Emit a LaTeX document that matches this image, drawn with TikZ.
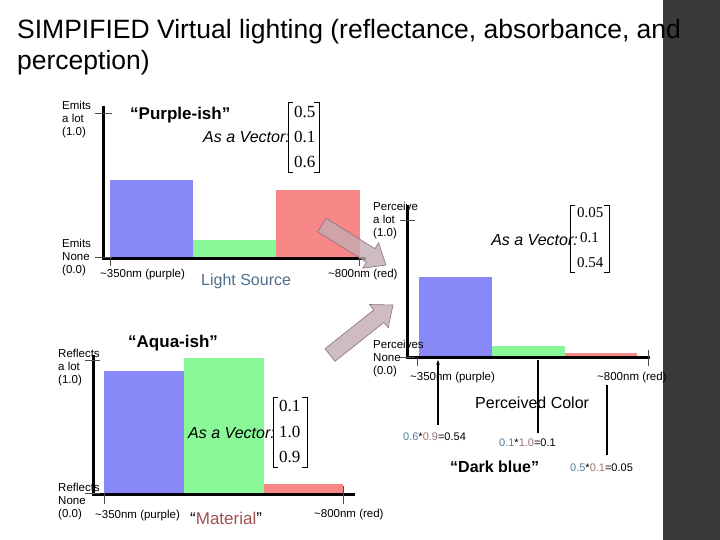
\documentclass[tikz,border=0pt]{standalone}
\usepackage{fontspec}
\setmainfont{Liberation Sans}
\newfontfamily\serifm{Liberation Serif}
\usetikzlibrary{arrows.meta}
\definecolor{barB}{HTML}{8888F8}
\definecolor{barG}{HTML}{88F898}
\definecolor{barR}{HTML}{F88888}
\definecolor{side}{HTML}{3A3A3A}
\definecolor{slate}{HTML}{4F6F8F}
\definecolor{numB}{HTML}{4F7F9F}
\definecolor{numR}{HTML}{A07070}
\definecolor{matc}{HTML}{A05050}
\definecolor{arrf}{HTML}{C4ACB2}
\definecolor{arrd}{HTML}{8A7078}
\tikzset{
  axis/.style={line width=3pt},
  tick/.style={line width=0.5pt,gray!60!black},
  small/.style={font=\fontsize{11.5}{13}\selectfont,anchor=north west,inner sep=0pt,align=left},
  axlab/.style={font=\fontsize{11.5}{13}\selectfont,anchor=west,inner sep=0pt},
  bold/.style={font=\fontsize{17}{19}\selectfont\bfseries,anchor=west,inner sep=0pt},
  vec/.style={font=\fontsize{16}{18}\selectfont\itshape,anchor=east,inner sep=0pt},
  num/.style={font=\serifm\fontsize{17}{19}\selectfont,anchor=west,inner sep=0pt},
  form/.style={font=\fontsize{11}{13}\selectfont,anchor=west,inner sep=0pt},
  fatarrow/.style={draw=arrd,fill=arrf,fill opacity=0.8,line width=0.6pt,line join=miter},
}
\begin{document}
\begin{tikzpicture}[x=1pt,y=-1pt]
\useasboundingbox (0,0) rectangle (720,540);
\fill[white] (0,0) rectangle (720,540);
\fill[side] (663,0) rectangle (720,540);
\node[anchor=north west,inner sep=0pt,align=left,font=\fontsize{26.5}{31}\selectfont] (title) at (17,19) {SIMPIFIED Virtual lighting (reflectance, absorbance, and\\perception)};

% ---------- Chart 1: light source
\fill[barB] (110,180) rectangle (193,257);
\fill[barG] (193,240) rectangle (276,257);
\fill[barR] (276,190) rectangle (360,257);
\draw[axis] (103,106) -- (103,258) -- (366,258);
\draw[tick] (95,113) -- (112,113);
\draw[tick] (95,257) -- (112,257);
\draw[tick] (110,257) -- (110,266);
\draw[tick] (359,257) -- (359,266);
\node[small] (e1) at (62,101) {Emits\\a lot\\(1.0)};
\node[small] (e0) at (62,239) {Emits\\None\\(0.0)};
\node[axlab] (l1a) at (100,275) {\textasciitilde350nm (purple)};
\node[anchor=west,inner sep=0pt,text=slate,font=\fontsize{16}{18}\selectfont] (ls) at (201,281) {Light Source};
\node[axlab] (l1b) at (328,275) {\textasciitilde800nm (red)};
\node[bold] (pur) at (130,115) {``Purple-ish''};
\node[vec] (v1) at (290,137) {As a Vector:};
\draw[line width=0.8pt] (293,102) -- (288,102) -- (288,172) -- (293,172);
\draw[line width=0.8pt] (314,102) -- (319,102) -- (319,172) -- (314,172);
\node[num] (m11) at (294,112) {0.5};
\node[num] (m12) at (294,137) {0.1};
\node[num] (m13) at (294,162) {0.6};

% ---------- Chart 2: perception
\fill[barB] (419,277) rectangle (492,357);
\fill[barG] (492,346) rectangle (565,357);
\fill[barR] (565,353) rectangle (637,357);
\draw[axis] (407,205) -- (407,357) -- (650,357);
\draw[tick] (400,220) -- (415,220);
\draw[tick] (400,357) -- (415,357);
\draw[tick] (417,357) -- (417,366);
\draw[tick] (648,350) -- (648,366);
\node[small] (p1) at (373,202) {Perceive\\a lot\\(1.0)};
\node[small] (p0) at (373,340) {Perceives\\None\\(0.0)};
\node[axlab] (l2a) at (410,378) {\textasciitilde350nm (purple)};
\node[axlab] (l2b) at (597,378) {\textasciitilde800nm (red)};
\node[vec] (v2) at (578,240) {As a Vector:};
\draw[line width=0.8pt] (575,205) -- (570,205) -- (570,272) -- (575,272);
\draw[line width=0.8pt] (604,205) -- (609,205) -- (609,272) -- (604,272);
\node[num,font=\serifm\fontsize{15}{17}\selectfont] (m21) at (577,213) {0.05};
\node[num,font=\serifm\fontsize{15}{17}\selectfont] (m22) at (580,238) {0.1};
\node[num,font=\serifm\fontsize{15}{17}\selectfont] (m23) at (577,263) {0.54};
\node[anchor=west,inner sep=0pt,font=\fontsize{16}{18}\selectfont] (pc) at (475,403) {Perceived Color};
\node[form] (f1) at (403,437) {\textcolor{numB}{0.6}*\textcolor{numR}{0.9}=0.54};
\node[form] (f2) at (499,443) {\textcolor{numB}{0.1}*\textcolor{numR}{1.0}=0.1};
\node[form] (f3) at (570,468) {\textcolor{numB}{0.5}*\textcolor{numR}{0.1}=0.05};
\node[bold,font=\fontsize{16}{18}\selectfont\bfseries] (db) at (450,467) {``Dark blue''};
\coordinate (t1) at (438,360);
\coordinate (t2) at (538,360);
\coordinate (t3) at (607,385);
\draw[line width=1.2pt,-{Stealth[length=5pt]}] (438,425) -- (t1);
\draw[line width=1.2pt] (538,433) -- (t2);
\draw[line width=1.2pt] (607,455) -- (t3);

% ---------- Chart 3: material
\fill[barB] (104,371) rectangle (184,493);
\fill[barG] (184,358) rectangle (264,493);
\fill[barR] (264,484) rectangle (343,493);
\draw[axis] (93,355) -- (93,494) -- (355,494);
\draw[tick] (85,360) -- (100,360);
\draw[tick] (85,493) -- (100,493);
\draw[tick] (104,493) -- (104,504);
\draw[tick] (343,486) -- (343,504);
\node[small] (r1) at (58,349) {Reflects\\a lot\\(1.0)};
\node[small] (r0) at (58,483) {Reflects\\None\\(0.0)};
\node[axlab] (l3a) at (95,516) {\textasciitilde350nm (purple)};
\node[anchor=west,inner sep=0pt,font=\fontsize{17}{19}\selectfont] (mat) at (190,518) {``\textcolor{matc}{Material}''};
\node[axlab] (l3b) at (314,515) {\textasciitilde800nm (red)};
\node[bold] (aq) at (128,343) {``Aqua-ish''};
\node[vec] (v3) at (275,433) {As a Vector:};
\draw[line width=0.8pt] (278,397) -- (273,397) -- (273,467) -- (278,467);
\draw[line width=0.8pt] (302,397) -- (307,397) -- (307,467) -- (302,467);
\node[num] (m31) at (279,406) {0.1};
\node[num] (m32) at (279,432) {1.0};
\node[num] (m33) at (279,457) {0.9};

% ---------- block arrows
\draw[fatarrow] (326.2,218.2) -- (374.9,248.7) -- (378.6,242.8) -- (386,265) -- (362.8,268.2) -- (366.5,262.3) -- (317.8,231.8) -- cycle;
\draw[fatarrow] (325.0,348.7) -- (373.9,309.9) -- (369.6,304.5) -- (393,305) -- (388.2,327.9) -- (383.9,322.5) -- (335.0,361.3) -- cycle;
\end{tikzpicture}
\end{document}
